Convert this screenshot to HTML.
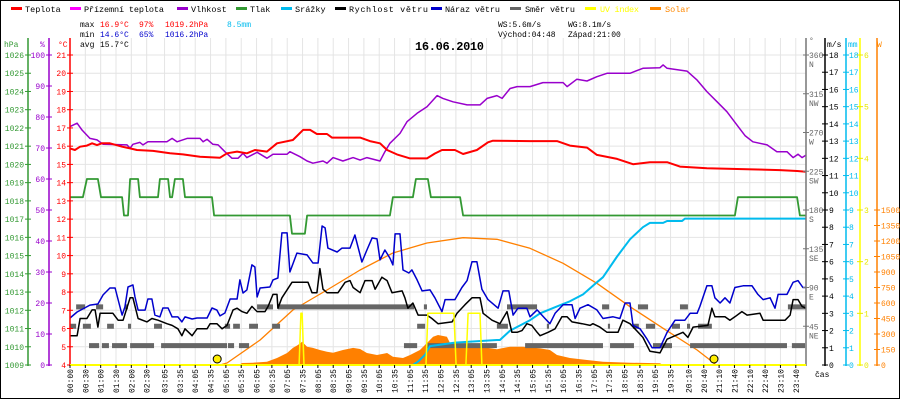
<!DOCTYPE html>
<html><head><meta charset="utf-8"><style>
html,body{margin:0;padding:0;background:#fff;}
svg{display:block;font-family:"Liberation Mono",monospace;}
</style></head><body>
<svg id="chart" width="900" height="400" viewBox="0 0 900 400">
<rect x="0.5" y="0.5" width="899" height="398" fill="#fff" stroke="#000"/>
<g id="grid"></g>
<g id="series"></g>
<g id="axes"></g>
<g font-size="8.5">
 <g><rect x="11" y="7" width="11" height="3" fill="#f00"/><text x="25" y="12">Teplota</text></g>
 <g><rect x="70" y="7" width="11" height="3" fill="#f0f"/><text x="84" y="12" textLength="80">Přízemní teplota</text></g>
 <g><rect x="177" y="7" width="11" height="3" fill="#90c"/><text x="191" y="12">Vlhkost</text></g>
 <g><rect x="236" y="7" width="11" height="3" fill="#393"/><text x="250" y="12">Tlak</text></g>
 <g><rect x="281" y="7" width="11" height="3" fill="#0be"/><text x="295" y="12">Srážky</text></g>
 <g><rect x="335" y="7" width="11" height="3" fill="#000"/><text x="349" y="12" textLength="79">Rychlost větru</text></g>
 <g><rect x="431" y="7" width="11" height="3" fill="#00c"/><text x="445" y="12" textLength="55">Náraz větru</text></g>
 <g><rect x="510" y="7" width="11" height="3" fill="#666"/><text x="525" y="12" textLength="50">Směr větru</text></g>
 <g><rect x="585" y="7" width="11" height="3" fill="#ff0"/><text x="600" y="12" fill="#ff0" textLength="39">UV index</text></g>
 <g><rect x="650" y="7" width="11" height="3" fill="#f80"/><text x="665" y="12" fill="#f80">Solar</text></g>
</g>
<g font-size="8">
 <text x="80" y="27">max</text><text x="100" y="27" fill="#f00">16.9°C</text><text x="139" y="27" fill="#f00">97%</text><text x="165" y="27" fill="#f00">1019.2hPa</text><text x="227" y="27" fill="#0be">8.5mm</text>
 <text x="80" y="37">min</text><text x="100" y="37" fill="#00c">14.6°C</text><text x="139" y="37" fill="#00c">65%</text><text x="165" y="37" fill="#00c">1016.2hPa</text>
 <text x="80" y="47">avg</text><text x="100" y="47">15.7°C</text>
 <text x="498" y="27">WS:5.6m/s</text><text x="568" y="27">WG:8.1m/s</text>
 <text x="498" y="37">Východ:04:48</text><text x="568" y="37">Západ:21:00</text>
</g>
<text x="415" y="50" font-size="12" font-weight="bold" textLength="69">16.06.2010</text>
<g font-size="8">
 <text x="4" y="47" fill="#393">hPa</text><text x="40" y="47" fill="#90c">%</text><text x="58" y="47" fill="#f00">°C</text>
 <text x="809" y="43" fill="#666">°</text><text x="827" y="47">m/s</text><text x="848" y="47" fill="#0be">mm</text><text x="877" y="47" fill="#f80">W</text>
 <text x="815" y="377">čas</text>
</g>
<script>
// ---- data ----
const timeLabels=["00:00","00:30","01:00","01:30","02:00","02:30","03:05","03:35","04:05","04:35","05:05","05:35","06:05","06:35","07:05","07:35","08:05","08:35","09:05","09:35","10:05","10:35","11:05","11:35","12:05","12:35","13:05","13:35","14:05","14:35","15:05","15:35","16:05","16:35","17:05","17:35","18:05","18:35","19:05","19:35","20:10","20:40","21:10","21:40","22:10","22:40","23:10","23:40"];
const tempH=[0,.16,.33,.55,.72,.88,1.04,1.30,1.70,1.96,2.18,2.71,3.26,3.68,4.24,4.89,5.12,5.45,5.77,6.03,6.42,6.75,7.27,7.60,7.83,8.05,8.38,8.54,9.46,9.78,10.11,10.34,10.66,11.09,11.64,11.90,12.13,12.55,12.82,13.27,13.63,13.79,15.00,15.88,16.30,16.86,17.18,17.84,18.36,18.91,19.47,19.89,20.77,22.08,23.15,23.71,24];
const tempV=[15.88,15.79,15.97,16.03,16.16,16.06,16.16,16.16,15.97,15.88,15.79,15.74,15.61,15.55,15.42,15.37,15.61,15.70,15.61,15.79,15.70,16.16,16.34,16.89,16.89,16.67,16.67,16.47,16.47,16.28,16.16,15.79,15.55,15.33,15.33,15.6,15.79,15.79,15.57,15.79,16.21,16.30,16.28,16.28,16.03,15.92,15.52,15.30,15.01,15.12,15.12,14.88,14.79,14.74,14.69,14.64,14.60];
const humH=[0,.23,.39,.65,.88,1.08,1.86,1.96,2.05,2.28,2.38,2.54,3.16,3.33,3.49,3.82,4.24,4.34,4.47,4.66,4.83,5.05,5.28,5.48,5.64,5.77,6.10,6.42,6.62,7.08,7.17,7.50,7.73,7.92,8.25,8.38,8.58,8.90,9.23,9.46,9.68,10.11,10.27,10.43,10.76,10.99,11.32,11.64,11.97,12.16,12.49,12.95,13.37,13.60,13.92,14.09,14.35,14.58,15.00,15.42,16.08,16.21,16.53,16.86,17.18,17.51,18.26,18.68,19.24,19.34,19.47,20.12,20.45,20.77,21.10,21.42,21.75,22.01,22.27,22.73,23.05,23.38,23.58,23.74,23.87,24];
const humV=[76.9,78.0,75.8,73.1,72.6,71.2,71.0,69.9,71.2,71.8,71.0,72.0,72.0,73.1,72.0,73.1,73.1,72.0,72.8,71.2,71.0,68.8,66.7,66.7,68.3,66.9,68.6,66.7,68.0,68.0,68.8,67.2,65.8,65.1,65.8,65.1,66.9,65.8,66.9,66.1,66.9,65.8,68.8,71.5,74.7,78.5,81.2,83.3,86.9,86.0,84.9,83.9,83.9,86.0,86.9,86.0,89.2,89.8,89.8,91.1,91.1,89.8,92.2,91.6,93.0,94.1,94.1,95.7,95.9,96.8,95.7,94.8,91.9,88.2,84.9,81.7,77.4,74.0,72.0,71.0,68.8,68.8,66.9,68.0,66.9,67.7];
const presH=[0,.42,.55,.91,1.01,1.70,1.76,1.89,1.96,2.22,2.28,2.87,2.93,3.20,3.26,3.33,3.42,3.68,3.75,4.63,4.70,7.17,7.24,7.66,7.73,10.43,10.53,11.18,11.28,11.67,11.77,12.72,12.82,21.68,21.78,23.71,23.80,24];
const presV=[1018.2,1018.2,1019.2,1019.2,1018.2,1018.2,1017.2,1017.2,1019.2,1019.2,1018.2,1018.2,1019.2,1019.2,1018.2,1018.2,1019.2,1019.2,1018.2,1018.2,1017.2,1017.2,1016.2,1016.2,1017.2,1017.2,1018.2,1018.2,1019.2,1019.2,1018.2,1018.2,1017.2,1017.2,1018.2,1018.2,1017.2,1017.2];
const rainH=[0,11.18,11.35,11.58,11.74,12.55,13.92,14.02,14.35,15.00,15.33,15.88,16.30,16.73,17.18,17.38,17.84,18.26,18.68,18.91,19.34,19.47,19.96,20.05,24];
const rainV=[0,0,0.2,0.6,1.1,1.3,1.45,1.45,2.0,2.6,3.0,3.4,3.7,4.1,4.8,5.1,6.3,7.3,8.0,8.25,8.25,8.36,8.36,8.5,8.5];
const gustH=[0,.23,.65,.91,1.08,1.30,1.47,1.63,1.70,1.79,1.89,2.05,2.12,2.22,2.45,2.54,2.67,2.77,2.93,3.03,3.20,3.33,3.52,3.65,3.75,3.98,4.14,4.47,4.63,4.79,4.89,5.05,5.22,5.45,5.54,5.64,5.77,5.93,6.03,6.10,6.20,6.52,6.62,6.78,6.91,7.08,7.17,7.40,7.73,7.92,8.09,8.22,8.32,8.41,8.71,8.87,9.13,9.29,9.52,9.68,9.85,10.01,10.11,10.27,10.43,10.53,10.60,10.76,10.86,11.05,11.15,11.32,11.48,11.74,11.90,12.13,12.23,12.55,12.78,12.95,13.11,13.27,13.43,13.63,13.96,14.12,14.31,14.45,14.61,14.90,15.00,15.23,15.49,15.65,15.82,16.08,16.37,16.47,16.63,16.89,17.18,17.38,17.71,17.93,18.10,18.26,18.36,18.59,18.82,18.98,19.24,19.47,19.73,20.05,20.22,20.45,20.54,20.77,20.93,21.03,21.20,21.36,21.52,21.68,21.95,22.24,22.43,22.60,22.83,22.99,23.09,23.38,23.58,23.74,23.90,24];
const gustV=[2.73,3.08,3.48,3.54,4.07,4.47,4.47,3.37,2.90,3.37,4.53,4.65,3.95,3.19,3.19,3.83,3.83,2.90,2.79,3.31,3.31,2.79,2.79,2.50,2.79,2.67,2.73,2.73,3.31,3.19,2.85,3.02,3.83,3.83,4.94,4.18,4.36,5.81,5.69,3.95,4.47,4.53,4.94,5.05,7.67,7.67,5.40,6.50,6.39,5.92,5.92,8.07,7.96,6.79,6.56,6.79,6.79,7.55,5.98,6.68,7.38,7.32,6.10,6.68,6.21,5.81,7.61,7.61,5.52,5.34,5.52,4.94,4.30,4.36,3.9,3.1,3.8,3.8,4.5,4.9,6.0,6.0,4.4,3.8,3.3,4.3,4.3,2.9,3.3,3.3,2.8,3.2,2.7,2.4,3.0,3.5,3.5,2.7,3.3,3.5,3.2,2.7,2.8,2.7,3.6,3.6,2.3,2.1,1.5,1.0,1.0,1.9,2.6,2.6,3.0,3.0,3.4,4.6,4.6,3.9,3.6,3.9,3.6,4.5,4.6,4.6,4.1,3.8,3.9,3.3,4.1,4.1,4.8,4.9,4.5,4.5];
const speedH=[0,.23,.33,.55,.72,.82,.91,.98,1.40,1.57,1.73,1.96,2.05,2.22,2.51,2.67,2.87,3.16,3.33,3.52,3.65,3.75,3.98,4.14,4.47,4.57,4.79,4.96,5.12,5.32,5.45,5.61,5.77,5.93,6.10,6.36,6.46,6.62,6.75,6.78,6.91,7.24,7.76,7.89,8.05,8.15,8.25,8.38,8.74,8.97,9.13,9.23,9.46,9.62,9.85,9.95,10.17,10.34,10.50,10.83,10.92,11.02,11.18,11.35,11.64,11.80,12.00,12.46,12.62,12.88,13.11,13.37,13.47,13.76,14.02,14.25,14.41,14.58,14.74,14.90,15.06,15.23,15.33,15.59,15.82,16.04,16.21,16.37,16.70,16.96,17.05,17.28,17.51,17.87,18.03,18.26,18.42,18.68,18.91,19.24,19.47,19.73,19.99,20.15,20.32,20.80,20.93,21.03,21.36,21.52,21.68,21.91,22.08,22.50,22.60,23.32,23.48,23.58,23.74,23.87,24];
const speedV=[1.7,1.7,2.7,2.7,3.2,3.2,2.2,3.0,3.0,2.6,2.6,3.9,3.9,2.7,2.5,2.7,2.6,2.4,2.3,2.1,1.7,2.1,1.7,2.1,2.1,2.4,2.4,2.1,2.3,3.2,3.3,3.1,3.0,3.4,3.1,3.1,3.4,4.1,4.1,3.3,3.9,4.8,4.8,4.2,4.2,5.6,4.4,4.2,4.2,4.8,4.9,4.5,4.2,4.9,4.9,4.4,5.1,4.9,4.2,4.3,3.9,3.3,3.6,2.9,2.9,2.7,2.4,2.5,3.0,3.5,3.9,3.9,3.0,2.6,2.4,3.1,1.9,1.9,2.0,2.4,2.3,1.9,1.7,1.9,2.1,2.8,2.8,2.5,2.4,2.3,2.4,2.2,1.9,1.9,2.6,2.4,2.1,1.6,0.8,0.7,1.5,1.7,1.9,1.6,2.2,2.3,3.3,2.8,2.8,2.6,2.8,3.1,2.9,3.0,2.6,2.6,2.9,3.8,3.8,3.4,3.3];
const dirStart=[.62,1.04,1.37,1.96,2.97,5.15,5.51,10.89,11.64,14.84,17.61,19.01,20.22,23.54, 0,.42,1.21,1.89,2.74,5.05,5.32,5.84,6.59,11.32,13.92,15.55,17.54,18.36,18.78,19.63,20.12,20.48, .2,.85,1.79,6.10,6.78,11.54,14.25,17.35,18.52,19.89,23.41];
const dirEnd=[.95,1.27,1.86,2.74,5.12,5.35,5.84,11.32,13.92,17.38,18.39,19.63,23.38,23.97, .2,.68,1.43,1.99,3.0,5.22,5.54,6.13,6.85,11.58,14.28,15.62,17.61,18.55,19.08,19.89,20.22,20.93, .49,1.08,1.89,6.62,11.22,11.64,15.23,17.58,18.85,20.15,24];
const dirDeg=[22.5,22.5,22.5,22.5,22.5,22.5,22.5,22.5,22.5,22.5,22.5,22.5,22.5,22.5, 45,45,45,45,45,45,45,45,45,45,45,45,45,45,45,45,45,45, 67.5,67.5,67.5,67.5,67.5,67.5,67.5,67.5,67.5,67.5,67.5];
const solarH=[5.5,5.61,5.97,6.42,6.75,7.08,7.27,7.43,7.57,7.73,7.92,8.15,8.38,8.58,8.90,9.23,9.46,9.68,10.01,10.34,10.53,10.86,11.09,11.41,11.64,11.84,12.00,12.29,12.39,12.82,13.37,13.92,14.35,14.77,15.33,15.65,15.88,16.30,16.86,17.38,18.26,19.24,19.34];
const solarW=[0,19,22,32,68,116,165,194,225,177,165,145,129,119,145,165,155,116,97,116,80,68,97,145,213,274,290,274,213,177,177,152,177,177,161,145,97,68,48,32,22,16,0];
const sunH=[4.89,5.12,6.20,7.27,8.38,9.46,10.53,11.64,12.82,13.92,15.00,16.08,17.18,18.26,19.34,20.45,20.87,21.07];
const sunW=[0,19,242,532,726,919,1084,1181,1232,1216,1129,984,791,564,355,145,48,0];
const uvH=[0,7.47,7.53,7.57,7.63,11.61,11.67,12.52,12.59,12.91,12.98,13.37,13.43,24];
const uvV=[0,0,1.0,1.0,0,0,1.0,1.0,0,0,1.0,1.0,0,0];
const sunEventsH=[4.8,21.0];
const presTicks=[1009,1010,1011,1012,1013,1014,1015,1016,1017,1018,1019,1020,1021,1022,1023,1024,1025,1026];
const humTicks=[0,10,20,30,40,50,60,70,80,90,100];
const tempTicks=[4,5,6,7,8,9,10,11,12,13,14,15,16,17,18,19,20,21];
const dirTicks=[45,90,135,180,225,270,315,360];
const dirNames=["NE","E","SE","S","SW","W","NW","N"];
const windTicks=[0,1,2,3,4,5,6,7,8,9,10,11,12,13,14,15,16,17,18];
const uvTicks=[0,1,2,3,4,5,6];
const solarTicks=[0,150,300,450,600,750,900,1050,1200,1350,1500];

// ---- scales ----
const X=h=>70+h*736/24;
const yT=t=>365-(t-4)*310/17;
const yHum=v=>365-v*3.1;
const yP=p=>365-(p-1009)*310/17;
const yW=v=>365-v*310/18;
const yD=d=>365-d*310/360;
const yUV=u=>365-u*310/6;
const ySol=w=>365-w*155/1500;
const NS="http://www.w3.org/2000/svg";
const grid=document.getElementById('grid'),series=document.getElementById('series'),axes=document.getElementById('axes');
function el(parent,tag,attrs){const e=document.createElementNS(NS,tag);for(const k in attrs)e.setAttribute(k,attrs[k]);parent.appendChild(e);return e;}
function tmin(s){const p=s.split(':');return (+p[0])+(+p[1])/60;}

// grid
tempTicks.forEach(t=>{const l=el(grid,'line',{x1:70,x2:806,y1:yT(t),y2:yT(t),stroke:'#e4e4e4','stroke-width':1});

});
timeLabels.forEach(s=>{const x=X(tmin(s));const l=el(grid,'line',{x1:x,x2:x,y1:38,y2:365,stroke:'#e4e4e4','stroke-width':1});

});

function poly(H,V,fy,color,w,name){const pts=H.map((h,i)=>X(h).toFixed(1)+','+fy(V[i]).toFixed(1)).join(' ');
const p=el(series,'polyline',{points:pts,fill:'none',stroke:color,'stroke-width':w,'stroke-linejoin':'round'});

return p;}

// solar area
{const pts=solarH.map((h,i)=>X(h).toFixed(1)+','+ySol(solarW[i]).toFixed(1));
pts.push(X(solarH[solarH.length-1]).toFixed(1)+',365');pts.unshift(X(solarH[0]).toFixed(1)+',365');
const p=el(series,'polygon',{points:pts.join(' '),fill:'#ff8000',stroke:'none'});

}
poly(sunH,sunW,ySol,'#ff8000',1.3,'solar-theoretical-line');
// wind direction
dirDeg.forEach((d,i)=>{const r=el(series,'rect',{x:X(dirStart[i]),y:yD(d)-2.5,width:Math.max(1,X(dirEnd[i])-X(dirStart[i])),height:5,fill:'#666'});

});
poly(rainH,rainV,yW,'#00bbee',2,'rain-line');
poly(presH,presV,yP,'#339933',1.8,'pressure-line');
poly(humH,humV,yHum,'#9900cc',1.5,'humidity-line');
poly(tempH,tempV,yT,'#ff0000',2,'temperature-line');
poly(speedH,speedV,yW,'#000000',1.5,'wind-speed-line');
poly(gustH,gustV,yW,'#0000cc',1.5,'wind-gust-line');
poly(uvH,uvV,yUV,'#ffff00',1.5,'uv-index-line');
sunEventsH.forEach(h=>{const c=el(series,'circle',{cx:X(h),cy:359,r:4,fill:'#ffee00',stroke:'#000','stroke-width':1});

});

// axes
function vline(x,y1,color,name){const l=el(axes,'line',{x1:x,x2:x,y1:y1,y2:366,stroke:color,'stroke-width':1.5});

}
function ticks(vals,fy,x,color,labelX,anchor,name){vals.forEach(v=>{const y=fy(v);
el(axes,'line',{x1:x-3,x2:x+3,y1:y,y2:y,stroke:color,'stroke-width':1});
const t=el(axes,'text',{x:labelX,y:y+3,fill:color,'font-size':8,'text-anchor':anchor});
t.textContent=v;

});}
vline(28,38,'#339933','pressure-axis');vline(49,38,'#9900cc','humidity-axis');vline(70,38,'#ff0000','temperature-axis');
vline(806,38,'#777','direction-axis');vline(825,38,'#000','wind-axis');vline(846,38,'#00bbee','rain-axis');vline(860,38,'#ffff00','uv-axis');vline(877,38,'#ff8000','solar-axis');
ticks(presTicks,yP,28,'#339933',24,'end','pressure-tick-label');
ticks(humTicks,yHum,49,'#9900cc',45,'end','humidity-tick-label');
ticks(tempTicks,yT,70,'#ff0000',66,'end','temperature-tick-label');
ticks(windTicks,yW,825,'#000',829,'start','wind-tick-label');
ticks(windTicks,yW,846,'#00bbee',849,'start','rain-tick-label');
ticks(uvTicks,yUV,860,'#e8e800',864,'start','uv-tick-label');
ticks(solarTicks,ySol,877,'#ff8000',881,'start','solar-tick-label');
dirTicks.forEach((d,i)=>{const y=yD(d);
el(axes,'line',{x1:803,x2:809,y1:y,y2:y,stroke:'#777','stroke-width':1});
const t=el(axes,'text',{x:809,y:y+3,fill:'#666','font-size':8});t.textContent=d;


const n=el(axes,'text',{x:809,y:y+12,fill:'#666','font-size':8});n.textContent=dirNames[i];

});
// x axis
el(axes,'line',{x1:70,x2:806,y1:365,y2:365,stroke:'#ffff00','stroke-width':2});
timeLabels.forEach(s=>{const x=X(tmin(s));
el(axes,'line',{x1:x,x2:x,y1:365,y2:368,stroke:'#000','stroke-width':1});
const t=el(axes,'text',{transform:'translate('+(x+3)+',369) rotate(-90)','text-anchor':'end','font-size':8});
t.textContent=s;

});
</script>
</svg>
</body></html>
